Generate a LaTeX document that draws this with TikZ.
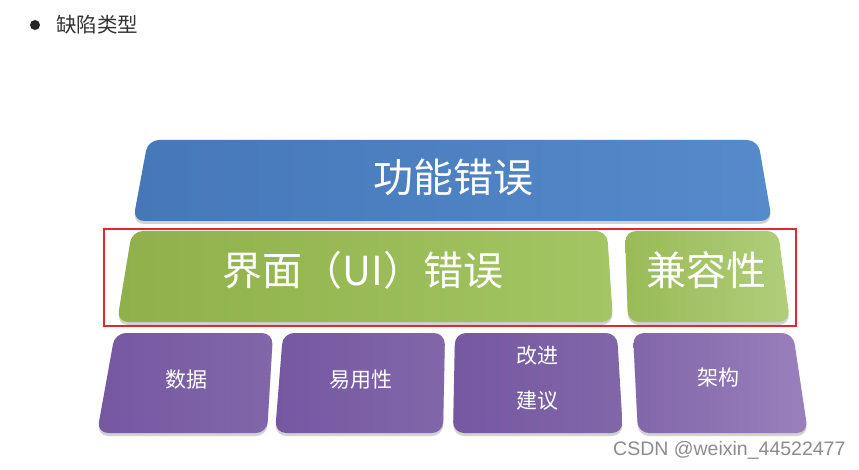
\documentclass[tikz,border=0pt]{standalone}
\usepackage{fontspec}
\setmainfont{Liberation Sans}
\newfontfamily\cjk{Noto Sans CJK SC}
\usetikzlibrary{shadows}
\definecolor{blueA}{HTML}{4678B8}
\definecolor{blueB}{HTML}{558ACB}
\definecolor{greenA}{HTML}{8FB04A}
\definecolor{greenB}{HTML}{A3C563}
\definecolor{purpA}{HTML}{7558A0}
\definecolor{purpB}{HTML}{8266AA}
\definecolor{purpC}{HTML}{9A80BC}
\definecolor{redbox}{HTML}{E0282E}
\begin{document}
\begin{tikzpicture}[x=1pt,y=-1pt,
  slab/.style={rounded corners=11pt, drop shadow={opacity=0.35, shadow xshift=0pt, shadow yshift=-3pt}},
  bigtxt/.style={text=white, font=\cjk\fontsize{40}{44}\selectfont, inner sep=0pt},
  smalltxt/.style={text=white, font=\cjk\fontsize{21}{24}\selectfont, inner sep=0pt},
]
\useasboundingbox (0,0) rectangle (859,470);
\fill[white] (0,0) rectangle (859,470);

% header
\node[circle, fill=black!85, inner sep=0pt, minimum size=10pt] (bullet) at (35,25) {};
\node[anchor=west, text=black!80, font=\cjk\fontsize{20.5}{22}\selectfont, inner sep=0pt] (title) at (56,25) {缺陷类型};

% blue slab
\path[slab, left color=blueA, right color=blueB] (148,140) -- (758,140) -- (772,221) -- (133,221) -- cycle;
\node[bigtxt] (func) at (453,177) {功能错误};

% green slabs
\path[slab, left color=greenA, right color=greenB] (132,231) -- (607,231) -- (613,322) -- (117,322) -- cycle;
\path[slab, left color=greenA!50!greenB, right color=greenB!85!white] (625,231) -- (778,231) -- (790,322) -- (628,322) -- cycle;
\node[bigtxt] (ui) at (363,270) {界面（UI）错误};
\node[bigtxt] (compat) at (706,270) {兼容性};

% red frame
\draw[redbox, line width=1.2pt] (104,229) rectangle (796,326);

% purple slabs
\path[slab, left color=purpA, right color=purpB] (115,333) -- (273,333) -- (267,433) -- (97,433) -- cycle;
\path[slab, left color=purpA, right color=purpB] (283,333) -- (445,333) -- (443,433) -- (275,433) -- cycle;
\path[slab, left color=purpA, right color=purpB] (455,333) -- (617,333) -- (623,433) -- (453,433) -- cycle;
\path[slab, left color=purpB, right color=purpC] (633,333) -- (793,333) -- (808,433) -- (638,433) -- cycle;
\node[smalltxt] (data) at (186,380) {数据};
\node[smalltxt] (usab) at (361,380) {易用性};
\node[smalltxt] (impr1) at (537,356) {改进};
\node[smalltxt] (impr2) at (537,401) {建议};
\node[smalltxt] (arch) at (718,378) {架构};

% credit
\node[anchor=west, text=black!45, font=\fontsize{19.5}{22}\selectfont, inner sep=0pt] (credit) at (613,450) {CSDN @weixin\_44522477};
\end{tikzpicture}
\end{document}
